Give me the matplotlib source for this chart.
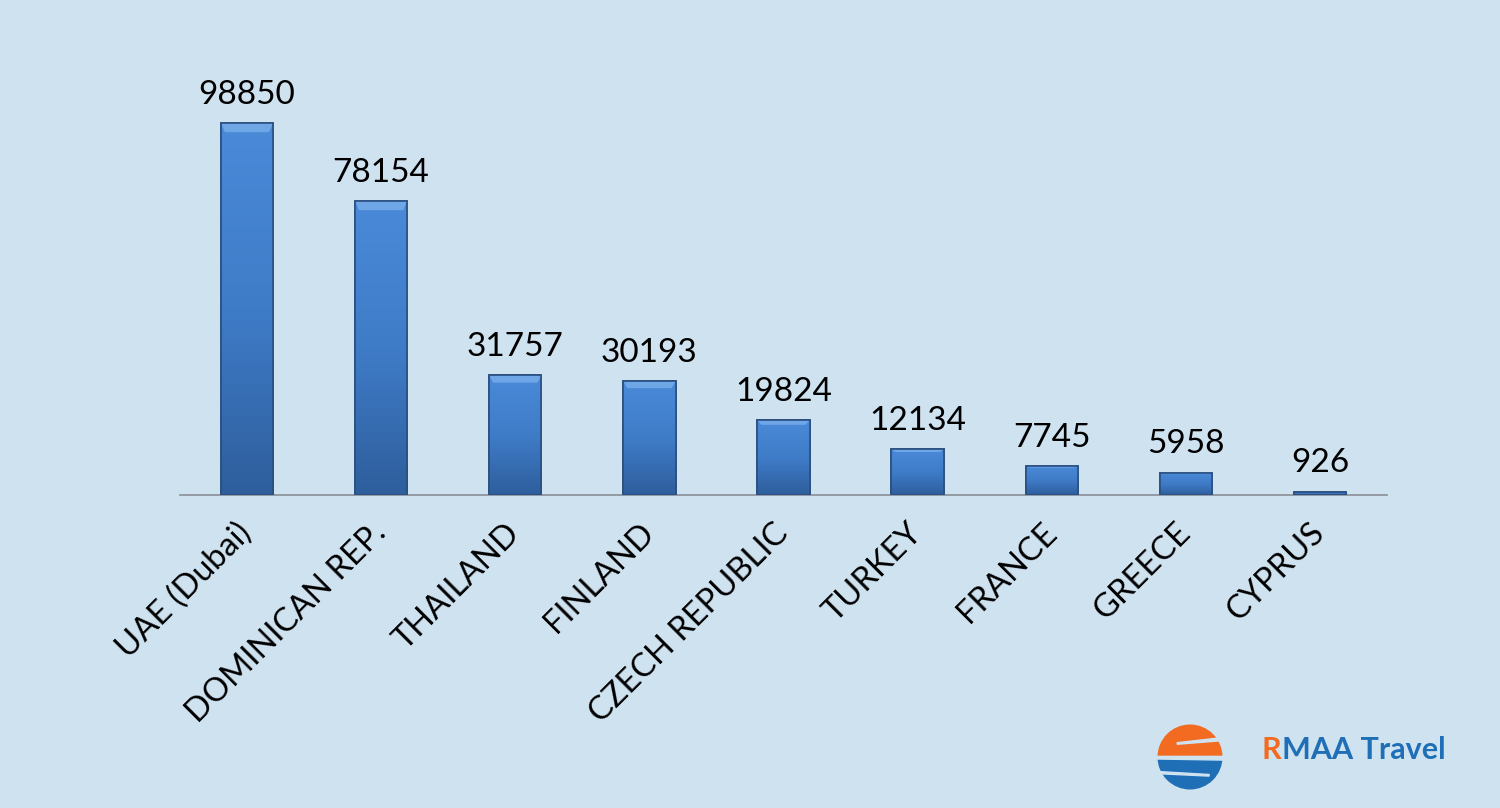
import numpy as np
import matplotlib.pyplot as plt
from matplotlib.patches import Wedge, Polygon
from matplotlib.colors import LinearSegmentedColormap

countries = ["UAE (Dubai)", "DOMINICAN REP.", "THAILAND", "FINLAND",
             "CZECH REPUBLIC", "TURKEY", "FRANCE", "GREECE", "CYPRUS"]
tourists = [98850, 78154, 31757, 30193, 19824, 12134, 7745, 5958, 926]

BG = "#cfe2f0"
plt.rcParams["font.family"] = ["Lato", "DejaVu Sans"]

fig = plt.figure(figsize=(15, 8.08), dpi=100, facecolor=BG)
ax = fig.add_axes([180 / 1500, 1 - 495 / 808, 1207 / 1500, 450 / 808])
ax.set_facecolor(BG)

x = np.arange(len(countries))
width = 0.39
bars = ax.bar(x, tourists, width=width, color="#3b74c0",
              edgecolor="#2a4f80", linewidth=1.2, zorder=2)

# vertical gradient inside every bar
cmap = LinearSegmentedColormap.from_list("bar", ["#2e5e9c", "#3f7cc8", "#4a8ad8"])
grad = np.linspace(0, 1, 256).reshape(-1, 1)
for b in bars:
    x0, h = b.get_x(), b.get_height()
    im = ax.imshow(grad, cmap=cmap, origin="lower", aspect="auto",
                   extent=[x0, x0 + width, 0, h], zorder=3)
    im.set_clip_path(b)
    # lighter bevel on the top edge
    bev = min(h * 0.06, 2500)
    ax.fill([x0, x0 + width, x0 + width - 0.03, x0 + 0.03],
            [h, h, h - bev, h - bev], color="#6fa6e6", zorder=4, lw=0)
    ax.add_patch(plt.Rectangle((x0, 0), width, h, fill=False,
                               edgecolor="#2a4f80", lw=1.2, zorder=5))
    ax.text(b.get_x() + width / 2, h + 3500, f"{h:.0f}", ha="center",
            va="bottom", fontsize=24, color="black")

ax.set_xlim(-0.5, len(countries) - 0.5)
ax.set_ylim(0, 119500)
ax.set_yticks([])
ax.set_xticks(x)
ax.set_xticklabels(countries, rotation=45, ha="right", va="center",
                   rotation_mode="anchor", fontsize=23.5)
ax.tick_params(axis="x", length=0, pad=24)
for s in ["top", "right", "left"]:
    ax.spines[s].set_visible(False)
ax.spines["bottom"].set_color("#8a8f96")
ax.spines["bottom"].set_linewidth(1.2)

# logo
lax = fig.add_axes([1150 / 1500, 1 - 792 / 808, 80 / 1500, 70 / 808])
lax.set_xlim(-1.15, 1.15)
lax.set_ylim(-1.1, 1.1)
lax.set_aspect("equal")
lax.axis("off")
lax.add_patch(Wedge((0, 0), 1, 0, 180, color="#f26b21"))
lax.add_patch(Wedge((0, 0), 1, 180, 360, color="#1f6fb7"))
lax.add_patch(Polygon([[-1.2, 0.02], [1.2, 0.02], [1.2, -0.1], [-1.2, -0.06]],
                      color=BG))
lax.add_patch(Polygon([[-0.4, 0.45], [1.1, 0.62], [1.1, 0.52], [-0.4, 0.4]],
                      color=BG))
lax.add_patch(Polygon([[-1.1, -0.45], [0.6, -0.55], [0.6, -0.6], [-1.1, -0.52]],
                      color=BG))
r_txt = fig.text(1262 / 1500, 1 - 750 / 808, "R", fontsize=22, color="#f26b21",
                 fontweight="bold", va="center", ha="left")
fig.canvas.draw()
bb = r_txt.get_window_extent(fig.canvas.get_renderer())
fig.text(bb.x1 / 1500, 1 - 750 / 808, "MAA Travel", fontsize=22,
         color="#1f6fb7", fontweight="bold", va="center", ha="left")

fig.savefig("out.png", dpi=100, facecolor=BG)
